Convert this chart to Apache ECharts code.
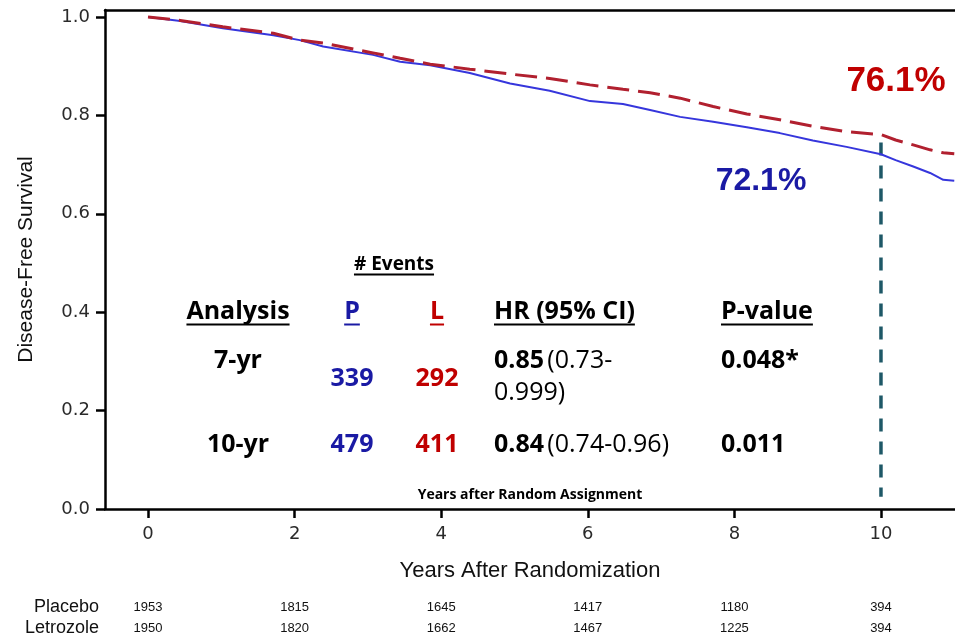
<!DOCTYPE html>
<html>
<head>
<meta charset="utf-8">
<script src="https://cdn.jsdelivr.net/npm/echarts@6/dist/echarts.min.js"></script>
<style>
  html, body { margin: 0; padding: 0; background: #ffffff; }
  #chart { width: 955px; height: 639px; }
</style>
</head>
<body>
<div id="chart"></div>
<script>
// Kaplan–Meier disease-free survival estimates, by years after randomization
const years        = [0, 0.44, 1.02, 1.71, 2.07, 2.39, 3.07, 3.44, 3.85, 4.39, 4.94, 5.48, 6.03, 6.48, 6.85, 7.26, 7.71, 8.17, 8.62, 9.07, 9.53, 10.0, 10.2, 10.44, 10.67, 10.85, 11.0];
const placeboDfs   = [1.0, 0.992, 0.977, 0.963, 0.953, 0.940, 0.923, 0.909, 0.902, 0.886, 0.865, 0.850, 0.829, 0.823, 0.811, 0.797, 0.787, 0.776, 0.764, 0.749, 0.736, 0.721, 0.709, 0.696, 0.683, 0.669, 0.667];
const letrozoleDfs = [1.0, 0.993, 0.980, 0.967, 0.953, 0.947, 0.927, 0.916, 0.904, 0.894, 0.884, 0.875, 0.862, 0.853, 0.846, 0.835, 0.818, 0.803, 0.791, 0.778, 0.767, 0.761, 0.750, 0.740, 0.730, 0.724, 0.722];

// 10-year landmark
const landmarkYear = 10;
const landmarkSpan = [0.025, 0.745];

// Axis ticks
const xTicks = [0, 2, 4, 6, 8, 10];
const yTicks = [0, 0.2, 0.4, 0.6, 0.8, 1.0];

// Numbers at risk
const atRiskArms      = ['Placebo', 'Letrozole'];
const placeboAtRisk   = [1953, 1815, 1645, 1417, 1180, 394];
const letrozoleAtRisk = [1950, 1820, 1662, 1467, 1225, 394];

// Summary table
const eventsTitle   = '# Events';
const tableHeaders  = ['Analysis', 'P', 'L', 'HR (95% CI)', 'P-value'];
const analyses      = ['7-yr', '10-yr'];
const placeboEvents = [339, 479];
const letrozoleEvts = [292, 411];
const hazardRatios  = ['0.85', '0.84'];
const hrIntervals   = ['(0.73-\n0.999)', '(0.74-0.96)'];
const pValues       = ['0.048*', '0.011'];
const innerCaption  = 'Years after Random Assignment';

const BLUE_LINE = '#3636dc';
const RED_LINE  = '#b1202f';
const BLUE_TXT  = '#1a1aa4';
const RED_TXT   = '#c00000';
const X_MIN = -0.587, X_MAX = 11.01;

const chart = echarts.init(document.getElementById('chart'), null, { renderer: 'canvas' });

const pairs = (xs, ys) => xs.map((x, i) => [x, ys[i]]);
const tickFont = { fontFamily: 'DejaVu Sans', fontSize: 18, color: '#2a2a2a' };

chart.setOption({
  animation: false,
  grid: { left: 105, right: 0, top: 10, bottom: 130 },
  xAxis: [
    {
      type: 'value', min: X_MIN, max: X_MAX, position: 'bottom',
      axisLine: { show: true, onZero: false, lineStyle: { color: '#000', width: 2.5 } },
      axisTick: { show: true, length: 9, customValues: xTicks, lineStyle: { color: '#000', width: 2.5 } },
      axisLabel: Object.assign({ customValues: xTicks, margin: 16 }, tickFont),
      splitLine: { show: false },
      name: 'Years After Randomization', nameLocation: 'middle', nameGap: 51,
      nameTextStyle: { fontFamily: 'Liberation Sans', fontSize: 22, color: '#111' }
    },
    {
      type: 'value', min: X_MIN, max: X_MAX, position: 'top',
      axisLine: { show: true, onZero: false, lineStyle: { color: '#000', width: 2.5 } },
      axisTick: { show: false }, axisLabel: { show: false }, splitLine: { show: false }
    }
  ],
  yAxis: {
    type: 'value', min: 0, max: 1.0142,
    axisLine: { show: true, onZero: false, lineStyle: { color: '#000', width: 2.5 } },
    axisTick: { show: true, length: 9, customValues: yTicks, lineStyle: { color: '#000', width: 2.5 } },
    axisLabel: Object.assign({ customValues: yTicks, margin: 15, formatter: v => v.toFixed(1) }, tickFont),
    splitLine: { show: false },
    name: 'Disease-Free Survival', nameLocation: 'middle', nameGap: 68,
    nameTextStyle: { fontFamily: 'Liberation Sans', fontSize: 21, color: '#111' }
  },
  series: [
    {
      name: 'Placebo', type: 'line', data: pairs(years, placeboDfs),
      showSymbol: false, z: 3,
      lineStyle: { color: BLUE_LINE, width: 2 }
    },
    {
      name: 'Letrozole', type: 'line', data: pairs(years, letrozoleDfs),
      showSymbol: false, z: 4,
      lineStyle: { color: RED_LINE, width: 3, type: [22, 9] }
    },
    {
      name: 'Landmark', type: 'line',
      data: [[landmarkYear, landmarkSpan[1]], [landmarkYear, landmarkSpan[0]]],
      showSymbol: false, z: 2,
      lineStyle: { color: '#1e5867', width: 3.5, type: [13, 10] }
    }
  ]
});

// ---- overlay text: survival labels, summary table, numbers at risk ----
const measureCtx = document.createElement('canvas').getContext('2d');
function textWidth(str, font) { measureCtx.font = font; return measureCtx.measureText(str).width; }

const TABLE_FONT = '"Open Sans"';
const TBL = 25;
const graphics = [];

function addText(x, y, text, opts) {
  graphics.push({
    type: 'text', x, y, z: 20, silent: true,
    style: Object.assign({ text, fill: '#000', align: 'left', verticalAlign: 'middle',
                           fontFamily: TABLE_FONT, fontSize: TBL, fontWeight: 'bold' }, opts)
  });
}
function addUnderline(xLeft, width, y, color) {
  graphics.push({ type: 'line', z: 20, silent: true,
    shape: { x1: xLeft, y1: y, x2: xLeft + width, y2: y },
    style: { stroke: color, lineWidth: 2 } });
}
function underlined(x, y, text, align, color, size) {
  addText(x, y, text, { align, fill: color, fontSize: size });
  const w = textWidth(text, `bold ${size}px ${TABLE_FONT}`);
  const left = align === 'center' ? x - w / 2 : x;
  addUnderline(left, w, y + size * 0.5, color);
}

// Survival at the landmark, taken from the curves
const iLandmark = years.indexOf(landmarkYear);
const pct = v => (v * 100).toFixed(1) + '%';
addText(896, 81, pct(letrozoleDfs[iLandmark]), { align: 'center', fill: RED_TXT, fontFamily: 'Liberation Sans', fontSize: 35 });
addText(761, 181, pct(placeboDfs[iLandmark]), { align: 'center', fill: BLUE_TXT, fontFamily: 'Liberation Sans', fontSize: 32 });

// Table columns
const colAnalysis = 238, colP = 352, colL = 437, colHR = 494, colPv = 721;
underlined(394, 265, eventsTitle, 'center', '#000', 19);
const headerY = 312;
underlined(colAnalysis, headerY, tableHeaders[0], 'center', '#000', TBL);
underlined(colP, headerY, tableHeaders[1], 'center', BLUE_TXT, TBL);
underlined(colL, headerY, tableHeaders[2], 'center', RED_TXT, TBL);
underlined(colHR, headerY, tableHeaders[3], 'left', '#000', TBL);
underlined(colPv, headerY, tableHeaders[4], 'left', '#000', TBL);

const rowLabelY = [361, 445];
const rowCountY = [379, 445];
analyses.forEach((a, i) => {
  addText(colAnalysis, rowLabelY[i], a, { align: 'center' });
  addText(colP, rowCountY[i], String(placeboEvents[i]), { align: 'center', fill: BLUE_TXT });
  addText(colL, rowCountY[i], String(letrozoleEvts[i]), { align: 'center', fill: RED_TXT });
  addText(colPv, rowLabelY[i], pValues[i], {});
  graphics.push({
    type: 'text', x: colHR, y: rowLabelY[i] - 16, z: 20, silent: true,
    style: {
      text: `{b|${hazardRatios[i]}} {r|${hrIntervals[i].split('\n').join('}\n{r|')}}`,
      align: 'left', verticalAlign: 'top',
      rich: {
        b: { fontFamily: TABLE_FONT, fontSize: TBL, fontWeight: 'bold', fill: '#000', lineHeight: 32 },
        r: { fontFamily: TABLE_FONT, fontSize: TBL, fontWeight: 'normal', fill: '#000', lineHeight: 32 }
      }
    }
  });
});

addText(530, 495, innerCaption, { align: 'center', fontSize: 14 });

// Numbers at risk under each year tick
const riskRows = [placeboAtRisk, letrozoleAtRisk];
const riskY = [607, 628];
atRiskArms.forEach((arm, r) => {
  addText(99, riskY[r], arm, { align: 'right', fontFamily: 'Liberation Sans', fontSize: 18, fontWeight: 'normal', fill: '#111' });
  riskRows[r].forEach((n, k) => {
    const px = chart.convertToPixel({ xAxisIndex: 0 }, xTicks[k]);
    addText(px, riskY[r], String(n), { align: 'center', fontFamily: 'Liberation Sans', fontSize: 13, fontWeight: 'normal', fill: '#111' });
  });
});

chart.setOption({ graphic: graphics });
</script>
</body>
</html>
